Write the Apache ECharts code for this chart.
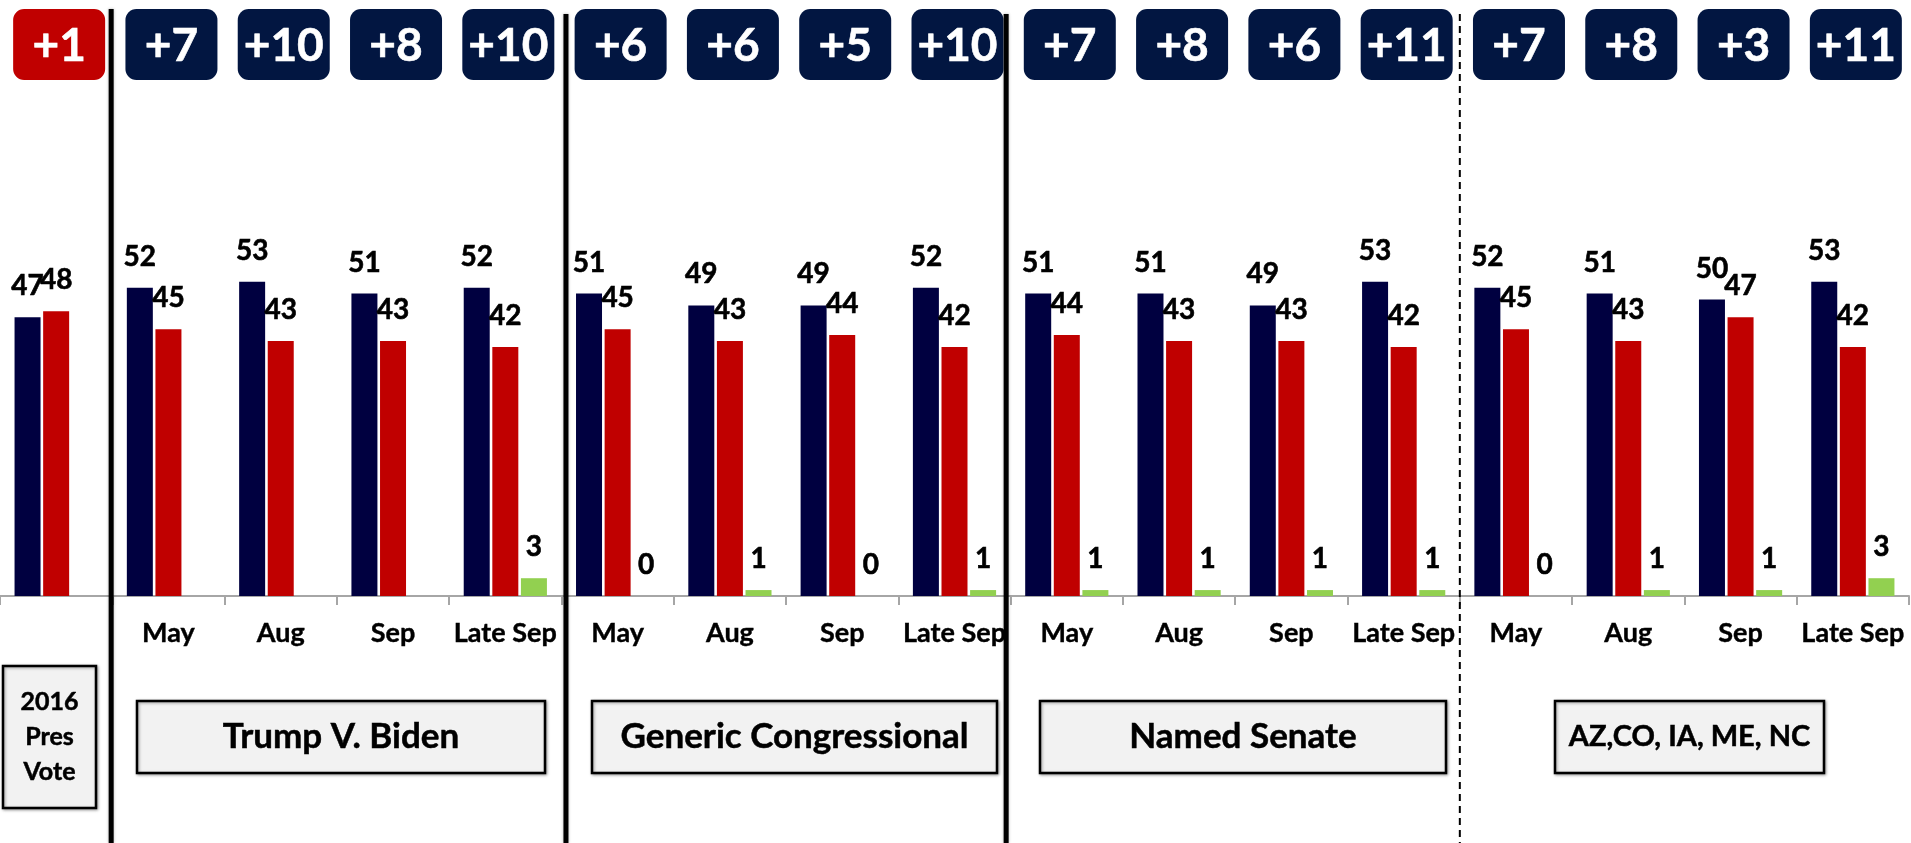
<!DOCTYPE html>
<html>
<head>
<meta charset="utf-8">
<script src="https://cdn.jsdelivr.net/npm/echarts@6/dist/echarts.min.js"></script>
<style>
  html, body { margin: 0; padding: 0; background: #fff; }
  #chart { width: 1911px; height: 843px; }
</style>
</head>
<body>
<div id="chart"></div>
<script>
// categories along the axis (first one is the 2016 result)
const categories = ['', 'May', 'Aug', 'Sep', 'Late Sep', 'May', 'Aug', 'Sep', 'Late Sep',
  'May', 'Aug', 'Sep', 'Late Sep', 'May', 'Aug', 'Sep', 'Late Sep']
const demValues = [47, 52, 53, 51, 52, 51, 49, 49, 52, 51, 51, 49, 53, 52, 51, 50, 53]
const repValues = [48, 45, 43, 43, 42, 45, 43, 44, 42, 44, 43, 43, 42, 45, 43, 47, 42]
const otherValues = [null, null, null, null, 3, 0, 1, 0, 1, 1, 1, 1, 1, 0, 1, 1, 3]
const margins = ['+1', '+7', '+10', '+8', '+10', '+6', '+6', '+5', '+10', '+7', '+8', '+6', '+11', '+7', '+8', '+3', '+11']
const marginParty = ['R', 'D', 'D', 'D', 'D', 'D', 'D', 'D', 'D', 'D', 'D', 'D', 'D', 'D', 'D', 'D', 'D']
const groupLabels = ['2016\nPres\nVote', 'Trump V. Biden', 'Generic Congressional', 'Named Senate', 'AZ,CO, IA, ME, NC']

const NAVY = '#000040'
const BOX_NAVY = '#021641'
const RED = '#C00000'
const GREEN = '#92D050'
const FONT = 'Lato'

// where the section dividers fall, in category units
const dividers = [0.99, 5.04, 8.96, 13]

// label boxes under the axis (pixel layout)
const groupBoxes = [
  { x: 3, y: 666, w: 93, h: 142, size: 25 },
  { x: 137, y: 701, w: 408, h: 72, size: 35 },
  { x: 592, y: 701, w: 405, h: 72, size: 35 },
  { x: 1040, y: 701, w: 406, h: 72, size: 35 },
  { x: 1555, y: 701, w: 269, h: 72, size: 29 }
]

const chart = echarts.init(document.getElementById('chart'))

const valueLabel = {
  show: true,
  position: 'top',
  distance: 17,
  fontFamily: FONT,
  fontWeight: 'bold',
  fontSize: 28,
  color: '#000',
  textBorderColor: '#000',
  textBorderWidth: 0.6,
  formatter: function (p) { return p.value == null ? '' : String(p.value) }
}

const graphic = []
groupBoxes.forEach(function (b, i) {
  graphic.push({
    type: 'rect',
    shape: { x: b.x, y: b.y, width: b.w, height: b.h },
    style: { fill: '#F2F2F2', stroke: '#000', lineWidth: 2.5, shadowBlur: 3, shadowColor: 'rgba(0,0,0,0.35)', shadowOffsetX: 1, shadowOffsetY: 1 },
    z: 10
  })
  graphic.push({
    type: 'text',
    x: b.x + b.w / 2,
    y: b.y + b.h / 2,
    style: {
      text: groupLabels[i],
      align: 'center',
      verticalAlign: 'middle',
      font: 'bold ' + b.size + 'px ' + FONT,
      lineHeight: i === 0 ? 35 : b.size,
      fill: '#000',
      stroke: '#000',
      lineWidth: 0.5
    },
    z: 11
  })
})

const option = {
  animation: false,
  backgroundColor: '#fff',
  grid: { left: 0, right: 2, top: 3, bottom: 247, containLabel: false },
  xAxis: [
    {
      type: 'category',
      data: categories,
      axisLine: { lineStyle: { color: '#A6A6A6', width: 2 } },
      axisTick: { show: true, interval: 0, length: 9, lineStyle: { color: '#A6A6A6', width: 2 } },
      axisLabel: {
        interval: 0, margin: 24, color: '#000', fontFamily: FONT, fontWeight: 'bold', fontSize: 27,
        textBorderColor: '#000', textBorderWidth: 0.4
      }
    },
    { type: 'value', min: 0, max: 17, show: false }
  ],
  yAxis: { type: 'value', min: 0, max: 100, show: false },
  series: [
    {
      name: 'Dem', type: 'bar', data: demValues, barWidth: 26, barGap: '10%',
      itemStyle: { color: NAVY }, label: valueLabel
    },
    {
      name: 'Rep', type: 'bar', data: repValues, barWidth: 26, barGap: '10%',
      itemStyle: { color: RED }, label: valueLabel
    },
    {
      name: 'Other', type: 'bar', data: otherValues, barWidth: 26, barGap: '10%',
      itemStyle: { color: GREEN }, label: valueLabel
    },
    {
      // margin boxes along the top
      type: 'custom',
      xAxisIndex: 0,
      yAxisIndex: 0,
      silent: true,
      clip: false,
      encode: { x: 0, y: 1 },
      data: margins.map(function (m, i) { return [i, 0] }),
      renderItem: function (params, api) {
        const i = params.dataIndex
        const cx = api.coord([api.value(0), 0])[0] + 3
        return {
          type: 'group',
          children: [
            {
              type: 'rect',
              shape: { x: cx - 46, y: 9, width: 92, height: 71, r: 11 },
              style: { fill: marginParty[i] === 'R' ? RED : BOX_NAVY }
            },
            {
              type: 'text',
              style: {
                text: margins[i], x: cx, y: 46, align: 'center', verticalAlign: 'middle',
                fill: '#fff', font: 'bold 46px ' + FONT, stroke: '#fff', lineWidth: 0.6
              }
            }
          ]
        }
      }
    },
    {
      // section dividers
      type: 'custom',
      xAxisIndex: 1,
      yAxisIndex: 0,
      silent: true,
      clip: false,
      z: 5,
      encode: { x: 0, y: 1 },
      data: dividers.map(function (d) { return [d, 0] }),
      renderItem: function (params, api) {
        const i = params.dataIndex
        const x = api.coord([api.value(0), 0])[0]
        const dashed = i === dividers.length - 1
        return {
          type: 'line',
          shape: { x1: x, y1: i === 0 ? 9 : 14, x2: x, y2: api.getHeight() },
          style: {
            stroke: '#000',
            lineWidth: dashed ? 2 : 5,
            lineDash: dashed ? [7, 5] : null,
            shadowBlur: dashed ? 0 : 3,
            shadowColor: 'rgba(0,0,0,0.3)'
          }
        }
      }
    }
  ],
  graphic: graphic
}

chart.setOption(option)
</script>
</body>
</html>
